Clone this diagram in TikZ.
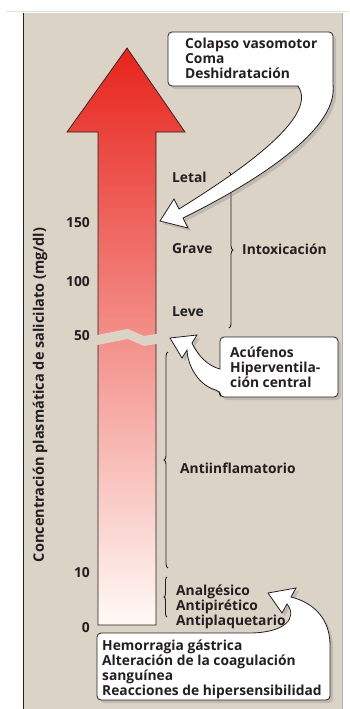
\documentclass[tikz,border=0pt]{standalone}
\usepackage{fontspec}
\setmainfont{Open Sans}
\usetikzlibrary{decorations.pathreplacing,shadows}
\begin{document}
\begin{tikzpicture}[x=1pt,y=-1pt,
  lbl/.style={font=\bfseries\fontsize{13.8}{15}\selectfont, text=ink, inner sep=0pt, anchor=west, align=left},
  tick/.style={lbl, anchor=east},
  callout/.style={draw=ink, line width=0.8pt, fill=white,
    drop shadow={opacity=0.3, shadow xshift=3pt, shadow yshift=-3pt}},
  bracket/.style={draw=ink, line width=0.9pt, decorate, decoration={brace, amplitude=4pt}}]
\definecolor{panel}{RGB}{220,211,199}
\definecolor{ink}{RGB}{35,31,32}
\definecolor{r1}{RGB}{231,36,28}
\definecolor{r2}{RGB}{247,176,146}
\definecolor{r3}{RGB}{255,250,246}
\useasboundingbox (0,0) rectangle (349,709);
% background panel
\fill[panel] (23,13) rectangle (342,709);
\draw[black!12, line width=1pt] (6,12) -- (349,12);
\draw[ink, line width=1pt] (23,13) -- (23,709);
\draw[black!30, line width=0.5pt] (342,13) -- (342,709);
% big arrow
\shade[top color=r1, middle color=r2, bottom color=r3]
  (98,625) -- (98,132) -- (67,132) -- (127,48) -- (185,132) -- (156,132) -- (156,625) -- cycle;
\draw[ink, line width=0.7pt]
  (98,625) -- (98,132) -- (67,132) -- (127,48) -- (185,132) -- (156,132) -- (156,625) -- cycle;
% break at 50
\fill[panel] (92,336) -- (128,329) -- (144,336) -- (162,333) -- (162,343) -- (144,346) -- (128,339) -- (92,346) -- cycle;
% scale
\node[tick] (v150) at (90,223) {150};
\node[tick] (v100) at (90,282) {100};
\node[tick] (v50) at (90,336) {50};
\node[tick] (v10) at (90,573) {10};
\node[tick] (v0) at (90,628) {0};
\node[lbl, anchor=center, rotate=90, font=\bfseries\fontsize{14.5}{16}\selectfont] (yaxis) at (40,395)
  {Concentración plasmática de salicilato (mg/dl)};
% effects
\node[lbl] (letal) at (172,177) {Letal};
\node[lbl] (grave) at (172,249) {Grave};
\node[lbl] (leve) at (172,312) {Leve};
\node[lbl] (intox) at (242,249) {Intoxicación};
\node[lbl] (antiinf) at (180,468) {Antiinflamatorio};
\node[lbl] (analg) at (176,607) {Analgésico\\Antipirético\\Antiplaquetario};
% braces
\coordinate (bIa) at (229,172);
\coordinate (bIb) at (229,328);
\coordinate (bAa) at (168,568);
\coordinate (bAb) at (168,352);
\coordinate (bBa) at (167,617);
\coordinate (bBb) at (167,577);
\draw[bracket] (bIa) -- (bIb);
\draw[bracket] (bAa) -- (bAb);
\draw[bracket, decoration={brace, amplitude=3pt}] (bBa) -- (bBb);
% callouts
\coordinate (tipA) at (160,221);
\coordinate (tipB) at (170,338);
\coordinate (tipC) at (268,593);
\path[callout] (168,59) [rounded corners=4pt] -- (168,32) -- (333,32) -- (333,84) [sharp corners]
  .. controls (335,130) and (260,180) .. (183,218) -- (188,228) -- (tipA) -- (174,199) -- (179,209)
  .. controls (250,165) and (318,115) .. (298,86) [rounded corners=4pt] -- (168,86) -- cycle;
\node[lbl] (txtA) at (185,58.5) {Colapso vasomotor\\Coma\\Deshidratación};
\path[callout] (279,337) [rounded corners=4pt] -- (338,337) -- (338,397) -- (220,397) -- (220,391) [sharp corners]
  .. controls (200,386) and (188,368) .. (187,350) -- (182,358) -- (tipB) -- (197,335) -- (192,343)
  .. controls (198,356) and (208,366) .. (220,369) [rounded corners=4pt] -- (220,337) -- cycle;
\node[lbl] (txtB) at (230,367.5) {Acúfenos\\Hiperventila-\\ción central};
\path[callout] (97,660) [rounded corners=4pt] -- (97,633) -- (245,633) [sharp corners]
  .. controls (285,633) and (298,618) .. (287,604) -- (282,613) -- (tipC) -- (296,588) -- (291,597)
  .. controls (315,603) and (330,620) .. (330,645) [rounded corners=4pt] -- (330,700) -- (97,700) -- cycle;
\node[lbl] (txtC) at (102,669.5) {Hemorragia gástrica\\Alteración de la coagulación\\sanguínea\\Reacciones de hipersensibilidad};
\end{tikzpicture}
\end{document}
